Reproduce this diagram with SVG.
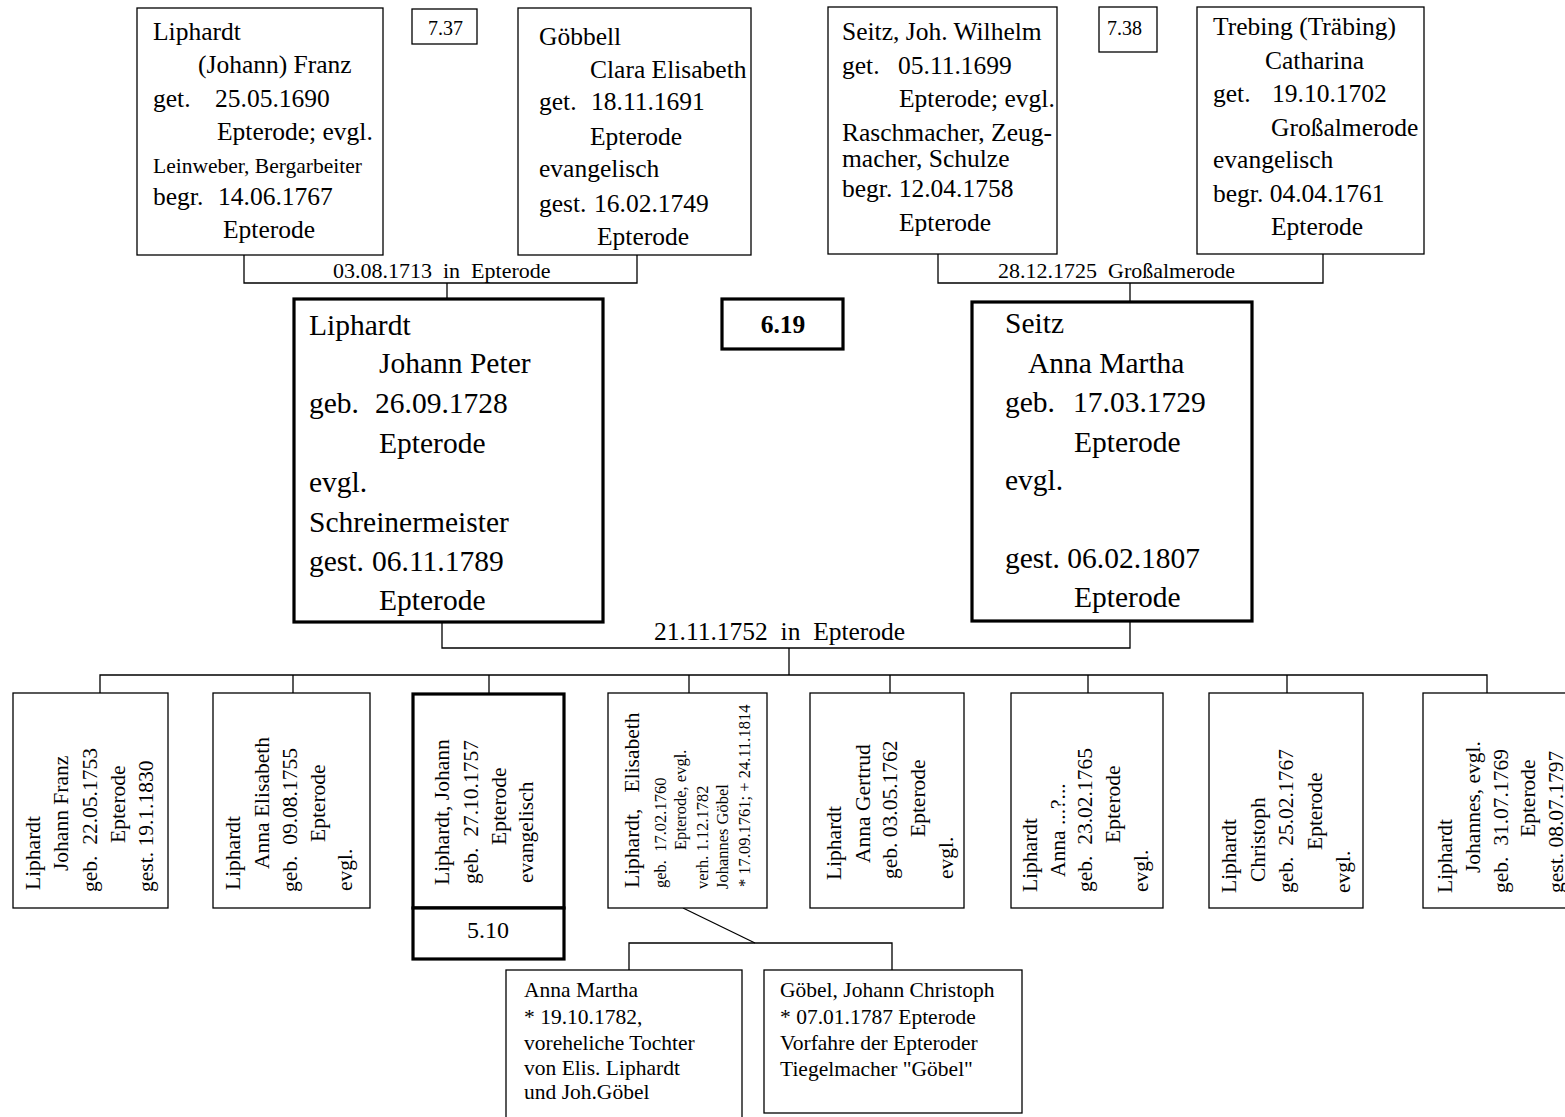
<svg xmlns="http://www.w3.org/2000/svg" width="1565" height="1117" viewBox="0 0 1565 1117">
<style>
text{font-family:"Liberation Serif","Times New Roman",serif;fill:#000}
.f25{font-size:25.5px}
.f22{font-size:22px}
.f21{font-size:21.5px}
.f20{font-size:20px}
.f16{font-size:16.5px}
.f30{font-size:29.5px}
.b{font-weight:bold}
.box{fill:#fff;stroke:#000;stroke-width:1.3}
.thick{fill:#fff;stroke:#000;stroke-width:3.2}
.conn path{fill:none;stroke:#000;stroke-width:1.3}
</style>
<rect width="1565" height="1117" fill="#fff"/>
<g id="connectors" class="conn">
<path d="M244,255 V283 H637 V255"/>
<path d="M447,283 V299"/>
<path d="M938,254 V283 H1323 V254"/>
<path d="M1130,283 V302"/>
<path d="M442,622 V648 H1130 V621"/>
<path d="M789,648 V675"/>
<path d="M100,693 V675 H1487 V693"/>
<path d="M293,675 V693"/>
<path d="M489,675 V693"/>
<path d="M689,675 V693"/>
<path d="M890,675 V693"/>
<path d="M1088,675 V693"/>
<path d="M1287,675 V693"/>
<path d="M683,908 L755,943"/>
<path d="M629,970 V943 H892 V970"/>
</g>
<g id="labels">
<text class="f22" x="333" y="278" xml:space="preserve">03.08.1713  in  Epterode</text>
<text class="f22" x="998" y="278" xml:space="preserve">28.12.1725  Großalmerode</text>
<text class="f25" x="654" y="640" xml:space="preserve">21.11.1752  in  Epterode</text>
</g>
<g id="n-liphardt-franz">
<rect class="box" x="137" y="8" width="246" height="247"/>
<text class="f25" x="153" y="40">Liphardt</text>
<text class="f25" x="198" y="73">(Johann) Franz</text>
<text class="f25" x="153" y="107">get.</text>
<text class="f25" x="215" y="107">25.05.1690</text>
<text class="f25" x="217" y="140">Epterode; evgl.</text>
<text class="f21" x="153" y="173">Leinweber, Bergarbeiter</text>
<text class="f25" x="153" y="205">begr.</text>
<text class="f25" x="218" y="205">14.06.1767</text>
<text class="f25" x="223" y="238">Epterode</text>
</g>
<g id="n-737">
<rect class="box" x="412" y="9" width="65" height="35"/>
<text class="f20" x="428" y="35">7.37</text>
</g>
<g id="n-goebbell">
<rect class="box" x="518" y="8" width="233" height="247"/>
<text class="f25" x="539" y="45">Göbbell</text>
<text class="f25" x="590" y="78">Clara Elisabeth</text>
<text class="f25" x="539" y="110">get.</text>
<text class="f25" x="591" y="110">18.11.1691</text>
<text class="f25" x="590" y="145">Epterode</text>
<text class="f25" x="539" y="177">evangelisch</text>
<text class="f25" x="539" y="212">gest.</text>
<text class="f25" x="594" y="212">16.02.1749</text>
<text class="f25" x="597" y="245">Epterode</text>
</g>
<g id="n-seitz-wilhelm">
<rect class="box" x="828" y="7" width="229" height="247"/>
<text class="f25" x="842" y="40">Seitz, Joh. Wilhelm</text>
<text class="f25" x="842" y="74">get.</text>
<text class="f25" x="898" y="74">05.11.1699</text>
<text class="f25" x="899" y="107">Epterode; evgl.</text>
<text class="f25" x="842" y="141">Raschmacher, Zeug-</text>
<text class="f25" x="842" y="167">macher, Schulze</text>
<text class="f25" x="842" y="197">begr. 12.04.1758</text>
<text class="f25" x="899" y="231">Epterode</text>
</g>
<g id="n-738">
<rect class="box" x="1099" y="7" width="58" height="45"/>
<text class="f20" x="1107" y="35">7.38</text>
</g>
<g id="n-trebing">
<rect class="box" x="1197" y="7" width="227" height="247"/>
<text class="f25" x="1213" y="35">Trebing (Träbing)</text>
<text class="f25" x="1265" y="69">Catharina</text>
<text class="f25" x="1213" y="102">get.</text>
<text class="f25" x="1272" y="102">19.10.1702</text>
<text class="f25" x="1271" y="136">Großalmerode</text>
<text class="f25" x="1213" y="168">evangelisch</text>
<text class="f25" x="1213" y="202">begr. 04.04.1761</text>
<text class="f25" x="1271" y="235">Epterode</text>
</g>
<g id="n-liphardt-peter">
<rect class="thick" x="294" y="299" width="309" height="323"/>
<text class="f30" x="309" y="335">Liphardt</text>
<text class="f30" x="379" y="373">Johann Peter</text>
<text class="f30" x="309" y="413">geb.</text>
<text class="f30" x="375" y="413">26.09.1728</text>
<text class="f30" x="379" y="453">Epterode</text>
<text class="f30" x="309" y="492">evgl.</text>
<text class="f30" x="309" y="532">Schreinermeister</text>
<text class="f30" x="309" y="571">gest.</text>
<text class="f30" x="372" y="571">06.11.1789</text>
<text class="f30" x="379" y="610">Epterode</text>
</g>
<g id="n-619">
<rect class="thick" x="722" y="299" width="121" height="50"/>
<text class="f25 b" x="783" y="333" text-anchor="middle">6.19</text>
</g>
<g id="n-seitz-anna">
<rect class="thick" x="972" y="302" width="280" height="319"/>
<text class="f30" x="1005" y="333">Seitz</text>
<text class="f30" x="1028" y="373">Anna Martha</text>
<text class="f30" x="1005" y="412">geb.</text>
<text class="f30" x="1073" y="412">17.03.1729</text>
<text class="f30" x="1074" y="452">Epterode</text>
<text class="f30" x="1005" y="490">evgl.</text>
<text class="f30" x="1005" y="568">gest. 06.02.1807</text>
<text class="f30" x="1074" y="607">Epterode</text>
</g>
<g id="c1" class="f21">
<rect class="box" x="13" y="693" width="155" height="215"/>
<text class="f21" transform="translate(40,890) rotate(-90)">Liphardt</text>
<text class="f21" transform="translate(68,871) rotate(-90)">Johann Franz</text>
<text class="f21" transform="translate(97,892) rotate(-90)" xml:space="preserve">geb.  22.05.1753</text>
<text class="f21" transform="translate(125,843) rotate(-90)">Epterode</text>
<text class="f21" transform="translate(153,892) rotate(-90)">gest. 19.1.1830</text>
</g>
<g id="c2">
<rect class="box" x="213" y="693" width="157" height="215"/>
<text class="f21" transform="translate(240,890) rotate(-90)">Liphardt</text>
<text class="f21" transform="translate(269,869) rotate(-90)">Anna Elisabeth</text>
<text class="f21" transform="translate(297,892) rotate(-90)" xml:space="preserve">geb.  09.08.1755</text>
<text class="f21" transform="translate(325,842) rotate(-90)">Epterode</text>
<text class="f21" transform="translate(352,891) rotate(-90)">evgl.</text>
</g>
<g id="c3">
<rect class="thick" x="413" y="694" width="151" height="214"/>
<text class="f21" transform="translate(449,885) rotate(-90)">Liphardt, Johann</text>
<text class="f21" transform="translate(478,884) rotate(-90)" xml:space="preserve">geb.  27.10.1757</text>
<text class="f21" transform="translate(506,845) rotate(-90)">Epterode</text>
<text class="f21" transform="translate(533,883) rotate(-90)">evangelisch</text>
</g>
<g id="n-510">
<rect class="thick" x="413" y="908" width="151" height="51"/>
<text x="488" y="938" text-anchor="middle" style="font-size:24px">5.10</text>
</g>
<g id="c4">
<rect class="box" x="608" y="693" width="159" height="215"/>
<text class="f21" transform="translate(639,888) rotate(-90)" xml:space="preserve">Liphardt,   Elisabeth</text>
<text class="f16" transform="translate(666,888) rotate(-90)" xml:space="preserve">geb.  17.02.1760</text>
<text class="f16" transform="translate(686,850) rotate(-90)">Epterode, evgl.</text>
<text class="f16" transform="translate(708,889) rotate(-90)">verh. 1.12.1782</text>
<text class="f16" transform="translate(728,889) rotate(-90)">Johannes Göbel</text>
<text class="f16" transform="translate(750,887) rotate(-90)">* 17.09.1761; + 24.11.1814</text>
</g>
<g id="c5">
<rect class="box" x="810" y="693" width="154" height="215"/>
<text class="f21" transform="translate(841,880) rotate(-90)">Liphardt</text>
<text class="f21" transform="translate(870,863) rotate(-90)">Anna Gertrud</text>
<text class="f21" transform="translate(897,879) rotate(-90)">geb. 03.05.1762</text>
<text class="f21" transform="translate(925,837) rotate(-90)">Epterode</text>
<text class="f21" transform="translate(953,879) rotate(-90)">evgl.</text>
</g>
<g id="c6">
<rect class="box" x="1011" y="693" width="152" height="215"/>
<text class="f21" transform="translate(1037,892) rotate(-90)">Liphardt</text>
<text class="f21" transform="translate(1065,877) rotate(-90)">Anna ...?...</text>
<text class="f21" transform="translate(1092,892) rotate(-90)" xml:space="preserve">geb.  23.02.1765</text>
<text class="f21" transform="translate(1120,843) rotate(-90)">Epterode</text>
<text class="f21" transform="translate(1148,892) rotate(-90)">evgl.</text>
</g>
<g id="c7">
<rect class="box" x="1209" y="693" width="154" height="215"/>
<text class="f21" transform="translate(1236,893) rotate(-90)">Liphardt</text>
<text class="f21" transform="translate(1265,882) rotate(-90)">Christoph</text>
<text class="f21" transform="translate(1293,893) rotate(-90)" xml:space="preserve">geb.  25.02.1767</text>
<text class="f21" transform="translate(1322,850) rotate(-90)">Epterode</text>
<text class="f21" transform="translate(1350,893) rotate(-90)">evgl.</text>
</g>
<g id="c8">
<rect class="box" x="1423" y="693" width="160" height="215"/>
<text class="f21" transform="translate(1452,893) rotate(-90)">Liphardt</text>
<text class="f21" transform="translate(1480,873) rotate(-90)">Johannes, evgl.</text>
<text class="f21" transform="translate(1508,893) rotate(-90)" xml:space="preserve">geb.  31.07.1769</text>
<text class="f21" transform="translate(1535,837) rotate(-90)">Epterode</text>
<text class="f21" transform="translate(1563,893) rotate(-90)">gest. 08.07.1797</text>
</g>
<g id="g-anna-martha">
<rect class="box" x="506" y="970" width="236" height="170"/>
<text class="f21" x="524" y="997">Anna Martha</text>
<text class="f21" x="524" y="1024">* 19.10.1782,</text>
<text class="f21" x="524" y="1050">voreheliche Tochter</text>
<text class="f21" x="524" y="1075">von Elis. Liphardt</text>
<text class="f21" x="524" y="1099">und Joh.Göbel</text>
</g>
<g id="g-goebel">
<rect class="box" x="764" y="970" width="258" height="143"/>
<text class="f21" x="780" y="997">Göbel, Johann Christoph</text>
<text class="f21" x="780" y="1024">* 07.01.1787 Epterode</text>
<text class="f21" x="780" y="1050">Vorfahre der Epteroder</text>
<text class="f21" x="780" y="1076">Tiegelmacher "Göbel"</text>
</g>
</svg>
